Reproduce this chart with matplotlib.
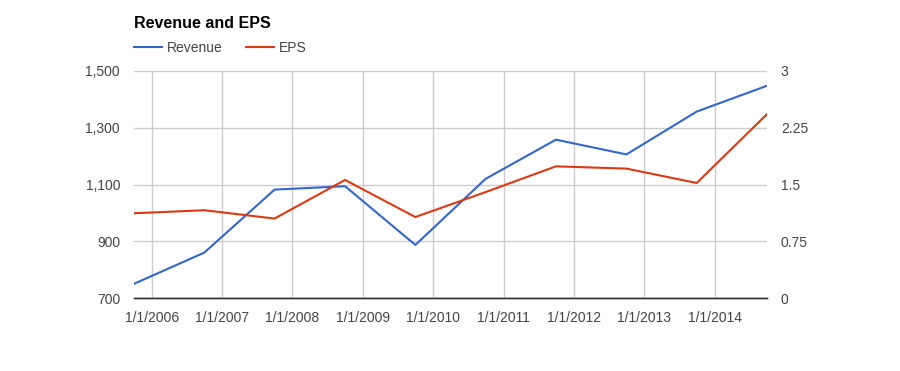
import matplotlib
matplotlib.use("Agg")
import matplotlib.pyplot as plt
import matplotlib.dates as mdates
from matplotlib.ticker import FuncFormatter, FixedLocator
import pandas as pd

plt.rcParams['font.family'] = ['Liberation Sans', 'DejaVu Sans']

# fiscal year ends
dates = pd.to_datetime(['2005-09-30', '2006-09-30', '2007-09-30', '2008-09-30', '2009-09-30',
                        '2010-09-30', '2011-09-30', '2012-09-30', '2013-09-30', '2014-09-30'])
revenue = [750, 860, 1082, 1094, 887, 1120, 1258, 1206, 1357, 1448]
eps = [1.12, 1.16, 1.05, 1.56, 1.07, 1.40, 1.74, 1.71, 1.52, 2.43]

rev_ticks = [700, 900, 1100, 1300, 1500]
eps_ticks = [0, 0.75, 1.5, 2.25, 3]
eps_tick_labels = ['0', '0.75', '1.5', '2.25', '3']

blue = '#3366cc'
red = '#dc3912'
grid = '#cccccc'
txt = '#444444'

fig = plt.figure(figsize=(9, 3.71), dpi=100)
ax = fig.add_axes([134 / 900, 1 - 298 / 371, (767 - 134) / 900, (298 - 71) / 371])
ax2 = ax.twinx()

l1, = ax.plot(dates, revenue, color=blue, lw=1.5, label='Revenue', solid_joinstyle='round')
l2, = ax2.plot(dates, eps, color=red, lw=1.5, label='EPS', solid_joinstyle='round')

ax.set_xlim(dates[0], dates[-1])
ax.set_ylim(700, 1500)
ax2.set_ylim(0, 3)

ax.yaxis.set_major_locator(FixedLocator(rev_ticks))
ax.yaxis.set_major_formatter(FuncFormatter(lambda v, p: f"{int(v):,}"))
ax2.set_yticks(eps_ticks)
ax2.set_yticklabels(eps_tick_labels)

ax.xaxis.set_major_locator(mdates.YearLocator(1, month=1, day=1))
ax.xaxis.set_major_formatter(FuncFormatter(
    lambda v, p: (lambda d: f"{d.month}/{d.day}/{d.year}")(mdates.num2date(v))))

ax.grid(True, color=grid, lw=1)
ax.set_axisbelow(True)
for a in (ax, ax2):
    for s in ('top', 'left', 'right'):
        a.spines[s].set_visible(False)
    a.spines['bottom'].set_color('#333333')
    a.spines['bottom'].set_linewidth(1)
    a.tick_params(length=0, labelsize=10, labelcolor=txt)
ax.tick_params(axis='y', pad=10)
ax2.tick_params(axis='y', pad=10)
ax.tick_params(axis='x', pad=9)

fig.text(134 / 900, 1 - 24 / 371, 'Revenue and EPS', fontsize=11.5, fontweight='bold',
         color='#000000', ha='left', va='center')

fig.legend([l1, l2], ['Revenue', 'EPS'], loc='center left',
           bbox_to_anchor=(134 / 900, 1 - 48 / 371), ncol=2, frameon=False,
           fontsize=10, labelcolor=txt, handlelength=2.0, handletextpad=0.4,
           columnspacing=1.65, borderpad=0, borderaxespad=0)

fig.savefig('out.png', dpi=100)
